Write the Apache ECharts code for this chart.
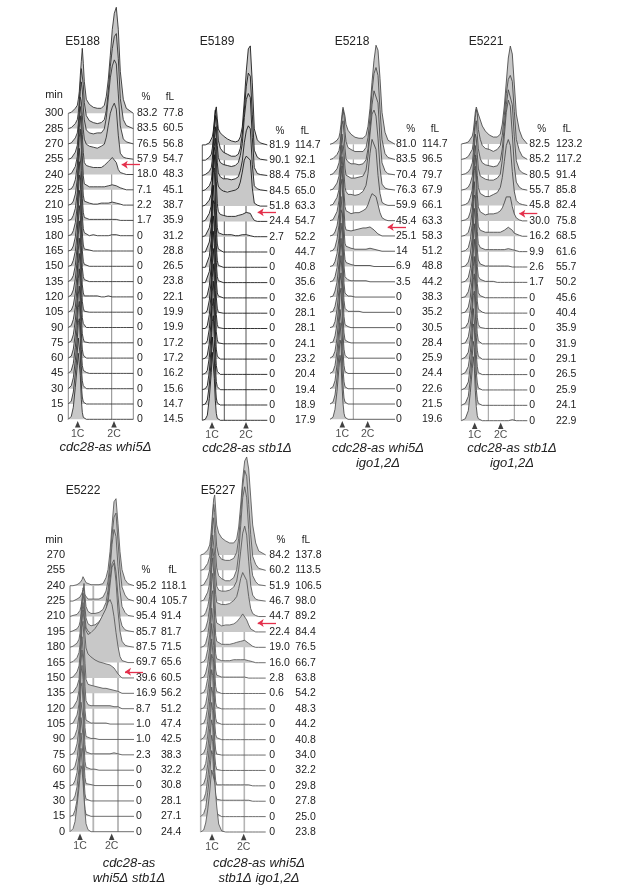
<!DOCTYPE html>
<html><head><meta charset="utf-8">
<script src="https://cdn.jsdelivr.net/npm/echarts@6/dist/echarts.min.js"></script>
<style>html,body{margin:0;padding:0;background:#fff}#c{width:617px;height:896px}</style>
</head><body><div id="c"></div>
<script>
// ---- shared DNA-content channels
const channels_a = [0,3,5,7,9,10,11,12,13,14,15,16,18,21,25,29,33,36,38,40,42,44,46,48,50,52,55,58,65];
const channels_b = [0,4,7,9,11,12,13,14,15,16,17,19,21,24,28,32,36,39,41,43,45,47,49,51,53,55,58,61,66];
const channels_c = [0,3,5,7,9,10,11,12,13,14,15,16,18,21,25,29,33,36,38,40,42,44,46,48,50,52,55,58,64];

// ---- E5188
const E5188_min = ['300','285','270','255','240','225','210','195','180','165','150','135','120','105','90','75','60','45','30','15','0'];
const E5188_pct = ['83.2','83.5','76.5','57.9','18.0','7.1','2.2','1.7','0','0','0','0','0','0','0','0','0','0','0','0','0'];
const E5188_fl = ['77.8','60.5','56.8','54.7','48.3','45.1','38.7','35.9','31.2','28.8','26.5','23.8','22.1','19.9','19.9','17.2','17.2','16.2','15.6','14.7','14.5'];
const E5188_hist = [
[0,1,3,5,8,14,22,38,52,65,50,32,14,9,6,5,5,8,17,34,58,84,100,106,84,42,14,5,0],
[0,1,2,5,9,16,28,44,60,62,44,26,13,8,6,5,6,9,18,38,62,80,92,95,70,30,9,3,0],
[0,1,3,6,11,20,34,52,62,54,36,24,14,11,10,11,11,15,26,46,66,78,84,80,50,18,5,2,0],
[0,1,3,7,14,26,44,62,58,44,30,20,15,13,12,11,13,15,22,34,46,52,56,50,24,6,2,1,0],
[0,1,3,8,18,32,54,68,60,40,22,12,9,8,7,7,7,9,11,13,15,17,18,12,5,2,1,0,0],
[0,1,4,10,24,42,62,74,60,34,14,6,4,3,3,3,3,3,3,4,4,5,4,4,3,2,1,0,0],
[0,1,4,11,26,46,68,76,56,28,10,4,2,2,1,1,2,2,2,2,3,3,2,2,1,1,0,0,0],
[0,1,5,12,28,50,72,74,50,22,8,3,1,1,1,1,1,1,1,1,1,1,1,1],
[0,1,5,13,30,54,74,72,46,20,7,3,1,0,1,0,0,0,0,0,1,1,0,1],
[0,1,5,14,32,56,76,70,42,18,6,2,1,1],
[0,1,6,15,34,58,76,68,40,16,5,2,1],
[0,2,6,16,36,60,76,66,36,14,5,2,1],
[0,2,7,18,38,62,76,62,34,12,4,1,1,1,1,1,0,0,1,1],
[0,2,7,19,40,62,74,60,32,11,4,1,1],
[0,2,8,20,42,64,74,58,30,10,4,2],
[0,2,8,22,44,64,74,56,28,9,4,1],
[0,2,9,24,46,64,72,54,26,9,3,1],
[0,3,10,26,48,66,72,52,24,8,3,1,1],
[0,3,11,28,50,66,70,50,22,8,3,1],
[0,3,12,30,52,66,68,48,20,7,2,1],
[0,3,12,32,54,66,66,44,20,7,2,1]
];

// ---- E5189
const E5189_pct = ['81.9','90.1','88.4','84.5','51.8','24.4','2.7','0','0','0','0','0','0','0','0','0','0','0','0'];
const E5189_fl = ['114.7','92.1','75.8','65.0','63.3','54.7','52.2','44.7','40.8','35.6','32.6','28.1','28.1','24.1','23.2','20.4','19.4','18.9','17.9'];
const E5189_hist = [
[0,0,1,2,4,8,14,24,34,38,26,16,12,9,6,4,3,4,8,18,44,74,96,99,62,16,5,2,0],
[0,0,1,3,6,12,22,36,50,52,36,20,12,8,6,4,4,6,12,26,50,74,87,84,46,10,3,1,0],
[0,1,2,4,8,16,30,46,60,50,30,18,13,11,10,9,10,13,20,32,58,76,82,78,38,8,2,1,0],
[0,1,2,5,10,20,36,52,64,52,28,18,14,12,12,11,12,14,20,30,48,60,65,62,26,5,2,1,0],
[0,1,3,6,12,24,42,60,68,48,26,20,17,15,14,15,16,18,24,34,46,50,52,46,18,3,1,0,0],
[0,1,3,8,16,32,54,74,70,40,18,10,7,6,5,5,5,6,6,7,8,9,9,8,4,1,0,0,0],
[0,1,3,9,20,40,66,82,64,28,9,4,2,2,2,2,1,1,2,2,2,2,1,1,1,0],
[0,0,2,10,26,52,80,84,56,24,8,3,1],
[0,0,2,11,28,56,82,80,52,22,7,2,1],
[0,0,2,11,30,58,82,78,48,20,6,2],
[0,0,3,12,32,60,82,74,44,18,5,2,1],
[0,0,3,13,34,62,82,70,42,16,5,1],
[0,0,3,14,36,64,80,66,38,14,4,1],
[0,0,3,15,38,66,80,62,34,12,4,1],
[0,1,4,16,40,68,78,58,30,10,3,1],
[0,1,4,17,42,68,76,54,28,9,3,1],
[0,1,4,18,44,68,74,50,26,8,3,1],
[0,1,5,20,46,68,70,46,22,7,2],
[0,1,5,22,48,68,66,42,20,7,2]
];

// ---- E5218
const E5218_pct = ['81.0','83.5','70.4','76.3','59.9','45.4','25.1','14','6.9','3.5','0','0','0','0','0','0','0','0','0'];
const E5218_fl = ['114.7','96.5','79.7','67.9','66.1','63.3','58.3','51.2','48.8','44.2','38.3','35.2','30.5','28.4','25.9','24.4','22.6','21.5','19.6'];
const E5218_hist = [
[0,1,2,4,7,12,20,30,37,39,28,20,14,10,7,6,6,9,18,36,62,84,99,94,66,32,12,4,0],
[0,1,2,5,9,15,26,40,50,44,28,18,12,10,8,8,8,12,22,42,68,86,92,84,50,20,6,2,0],
[0,1,3,6,12,20,34,50,54,42,26,16,13,11,11,10,11,15,26,46,70,84,85,72,36,12,4,1,0],
[0,1,3,7,14,24,40,56,54,38,22,15,13,12,12,13,14,20,34,56,76,80,74,52,22,6,2,1,0],
[0,1,3,8,16,28,46,60,50,32,18,14,11,11,10,11,14,20,32,52,66,68,56,30,12,3,1,0,0],
[0,1,3,9,20,34,52,64,50,28,14,10,8,7,8,8,10,12,16,22,27,28,24,16,8,3,1,0,0],
[0,1,4,10,22,40,58,70,50,26,10,6,5,5,6,7,8,8,10,9,7,6,4,2,1,0],
[0,1,4,12,26,46,66,72,48,22,8,5,4,3,2,2,2,2,2,3,2,2,1,1,1],
[0,1,5,13,28,50,70,70,44,18,7,4,3,2,1,1,1,1,1,1,1],
[0,1,5,14,30,54,72,68,40,16,5,3,2,1,1,1,1,1],
[0,1,6,15,34,56,74,64,36,14,4,2,1,1],
[0,1,6,16,36,58,74,60,32,12,4,2,1,1,1,1],
[0,1,6,18,38,60,72,56,30,11,3,2,1],
[0,1,7,19,40,62,70,52,26,10,3,1,1],
[0,2,7,20,44,64,70,48,24,9,3,1],
[0,2,8,22,46,64,66,44,22,8,2,1],
[0,2,8,24,48,66,64,40,20,7,2,1],
[0,2,9,26,50,64,60,36,18,6,2,1],
[0,2,10,28,52,64,56,34,16,6,2,1]
];

// ---- E5221
const E5221_pct = ['82.5','85.2','80.5','55.7','45.8','30.0','16.2','9.9','2.6','1.7','0','0','0','0','0','0','0','0','0'];
const E5221_fl = ['123.2','117.2','91.4','85.8','82.4','75.8','68.5','61.6','55.7','50.2','45.6','40.4','35.9','31.9','29.1','26.5','25.9','24.1','22.9'];
const E5221_hist = [
[0,1,2,4,8,13,22,32,37,38,30,24,18,13,9,7,7,10,20,38,62,86,98,90,60,30,14,6,0],
[0,1,3,5,10,17,28,42,50,46,30,20,14,11,10,8,10,14,24,44,66,80,84,78,48,20,9,3,0],
[0,1,3,6,12,22,36,50,54,40,26,16,12,10,9,8,9,14,26,48,70,85,84,70,38,14,5,2,0],
[0,1,3,7,14,26,42,56,52,36,22,14,12,11,10,10,12,16,30,54,78,90,84,56,24,8,3,1,0],
[0,1,3,8,16,30,48,60,48,30,18,12,10,9,9,11,13,18,28,44,60,66,60,34,14,5,2,1,0],
[0,1,3,9,20,36,54,66,50,26,14,9,7,6,7,7,8,10,13,18,24,25,24,14,7,3,1,0,0],
[0,1,4,11,26,46,66,70,48,24,10,6,5,4,4,4,4,4,5,6,8,9,8,6,3,2,1,0,0],
[0,1,4,12,28,50,70,70,44,20,8,4,3,2,2,2,2,2,2,2,3,3,2,2,1,1],
[0,1,5,13,30,54,72,68,40,18,7,3,2,1,1,1,1,1,1,1,1,1,1],
[0,1,5,14,32,56,74,64,38,16,6,3,1,1,1,1],
[0,1,6,15,34,58,74,60,34,14,5,2,1],
[0,1,6,16,36,60,74,58,32,12,4,2,1],
[0,1,6,18,38,62,72,54,28,11,4,1,1],
[0,1,7,19,40,64,70,50,24,10,3,1],
[0,2,7,20,44,64,68,46,22,9,3,1],
[0,2,8,22,46,66,66,42,20,8,2,1],
[0,2,8,24,48,66,62,38,18,7,2,1],
[0,2,9,26,50,64,58,32,16,6,2,1],
[0,2,10,28,52,64,54,30,14,5,2,1,0,0,0,0,0,0,0,0,0,0,1,1,1,0]
];

// ---- E5222
const E5222_min = ['270','255','240','225','210','195','180','165','150','135','120','105','90','75','60','45','30','15','0'];
const E5222_pct = ['','','95.2','90.4','95.4','85.7','87.5','69.7','39.6','16.9','8.7','1.0','1.0','2.3','0','0','0','0','0'];
const E5222_fl = ['','','118.1','105.7','91.4','81.7','71.5','65.6','60.5','56.2','51.2','47.4','42.5','38.3','32.2','30.8','28.1','27.1','24.4'];
const E5222_hist = [
[0,0,1,1,2,3,4,6,9,11,7,3,2,1,1,1,2,8,16,34,60,84,87,62,34,16,6,2,0],
[0,0,1,2,3,4,5,8,11,10,6,4,2,2,2,2,4,10,20,38,66,84,88,60,32,14,6,2,0],
[0,1,1,2,4,6,10,16,24,33,20,10,5,3,3,4,7,14,26,46,72,87,80,50,26,10,4,1,0],
[0,1,2,3,6,10,18,30,44,40,24,14,8,6,7,10,16,22,34,52,68,72,60,36,14,6,2,1,0],
[0,1,2,4,8,14,26,42,54,46,30,20,16,14,15,18,22,30,44,62,80,84,66,36,16,6,2,1,0],
[0,1,2,5,10,18,34,50,60,50,38,32,28,30,34,40,48,54,60,63,58,46,30,16,6,2,1,0,0],
[0,1,3,6,12,22,38,56,68,58,42,30,24,21,18,16,15,14,14,13,11,10,7,4,2,0,0,0,0],
[0,1,3,7,14,28,48,66,72,54,30,14,9,8,7,6,5,5,4,4,3,3,2,2,1,0,0,0,0],
[0,1,3,8,18,34,56,72,70,46,22,8,4,3,3,3,3,3,3,3,2,2,2,2,1,0],
[0,1,3,9,20,40,62,74,64,38,14,4,2,1,1,1,1,1],
[0,1,4,10,24,44,66,74,60,32,12,3,2,1,1],
[0,1,4,11,26,46,68,72,54,28,10,3,1,1,1,1,1,1,1,1,1,2,2,1,1],
[0,1,4,12,28,48,68,70,52,26,9,3,1,1,1],
[0,1,5,13,30,50,68,68,50,24,8,2,1,1],
[0,1,5,14,32,52,68,68,46,22,7,2,1],
[0,1,6,16,36,54,68,66,42,20,7,2,1],
[0,3,10,26,44,56,66,62,50,34,20,8,2]
];

// ---- E5227
const E5227_pct = ['84.2','60.2','51.9','46.7','44.7','22.4','19.0','16.0','2.8','0.6','0','0','0','0','0','0','0','0','0'];
const E5227_fl = ['137.8','113.5','106.5','98.0','89.2','84.4','76.5','66.7','63.8','54.2','48.3','44.2','40.8','34.0','32.2','29.8','27.8','25.0','23.8'];
const E5227_hist = [
[0,1,2,5,10,18,30,44,56,60,46,30,22,17,14,12,12,16,28,50,76,94,98,86,58,30,12,4,0],
[0,1,3,7,14,24,38,54,66,58,40,24,15,11,10,10,12,18,32,56,84,100,94,66,36,14,6,2,0],
[0,1,3,8,16,28,44,60,68,52,32,18,10,7,5,5,8,16,32,60,88,99,88,56,24,10,4,1,0],
[0,1,3,9,18,32,50,66,64,46,26,15,11,10,10,11,14,20,32,50,68,75,66,40,16,6,2,1,0],
[0,1,4,10,20,36,54,68,60,40,22,14,12,12,12,13,16,20,28,38,44,45,36,20,8,3,1,0,0],
[0,1,4,11,24,44,64,74,60,36,16,9,7,6,7,7,8,10,12,15,18,17,12,7,3,1,0,0,0],
[0,1,4,12,26,46,66,74,58,30,12,6,4,3,3,3,4,5,5,6,7,7,6,4,2,1,0],
[0,1,4,13,28,48,68,72,54,26,9,4,2,2,2,2,3,3,3,3,3,3,2,2,1,1],
[0,1,5,14,30,50,70,72,50,24,8,3,1,1,1,1,1,1,1,1,1,1,1],
[0,1,5,15,32,52,70,70,48,22,7,2,1],
[0,1,5,16,34,54,70,68,46,20,6,2,1],
[0,1,6,17,36,56,70,66,44,18,6,2,1],
[0,2,6,18,38,58,70,64,42,17,5,2],
[0,2,7,19,40,58,68,62,40,16,5,1],
[0,2,7,20,42,58,68,60,38,16,5,1,1],
[0,2,8,21,42,58,66,60,38,16,5,1,1,1,1,1,1,1,1,1,1,1,1,1],
[0,2,8,22,42,56,66,60,40,18,6,2,1,1,1,1,1,1,1,1,1,1,1,1],
[0,3,9,24,42,56,66,62,44,24,10,3,1],
[0,2,9,22,40,52,62,64,60,50,38,26,8,1]
];

// ---- reference marks: 1C/2C channel, red arrow [tail channel, tip channel, row height]
const E5188_ploidy = [9.4,45.7], E5188_arrow = [71.7,53.4,16.64], E5188_gates = [0,43.4,65];
const E5189_ploidy = [9.7,43.7], E5189_arrow = [73.7,55.4,13.6],  E5189_gates = [0,22,43.7];
const E5218_ploidy = [12.3,37.7],E5218_arrow = [76,57.7,12.58],   E5218_gates = [23.3];
const E5221_ploidy = [13.4,39.4],E5221_arrow = [76,58,13.47],     E5221_gates = [0,27,53];
const E5222_ploidy = [10,41.7],  E5222_arrow = [73,55,10.4],      E5222_gates = [0,23.3,48];
const E5227_ploidy = [11.3,43],  E5227_arrow = [75.3,57,13.58],   E5227_gates = [0,22,43.6];

const FONT = '"Liberation Sans", Arial, sans-serif';
const TEXT = '#222';

const panels = [
 {name:'E5188',ch:channels_a,hist:E5188_hist,min:E5188_min,pct:E5188_pct,fl:E5188_fl,pl:E5188_ploidy,arrow:E5188_arrow,gates:E5188_gates,
  left:68.3,width:65,y0:419.3,step:15.3,rows:27,mP:3.7,oF:26,line:'#2a2a2a',gate:'#888',gw:1,
  nameX:82.5,nameY:41.5,pctX:146,flX:170,headY:97,minY:95,gene:['cdc28-as whi5'],geneX:105.5,geneY:447.7},
 {name:'E5189',ch:channels_a,hist:E5189_hist,pct:E5189_pct,fl:E5189_fl,pl:E5189_ploidy,arrow:E5189_arrow,gates:E5189_gates,
  left:202.3,width:65,y0:420.3,step:15.3,rows:25,mP:2,oF:25.7,line:'#111',gate:'#555',gw:1,
  nameX:217,nameY:41.5,pctX:280,flX:305,headY:131,gene:['cdc28-as stb1'],geneX:247,geneY:448},
 {name:'E5218',ch:channels_a,hist:E5218_hist,pct:E5218_pct,fl:E5218_fl,pl:E5218_ploidy,arrow:E5218_arrow,gates:E5218_gates,
  left:330,width:65,y0:419.3,step:15.28,rows:25,mP:1,oF:26,line:'#444',gate:'#999',gw:1,
  nameX:352,nameY:41.5,pctX:410.7,flX:435,headY:129,gene:['cdc28-as whi5','igo1,2'],geneX:378,geneY:448},
 {name:'E5221',ch:channels_b,hist:E5221_hist,pct:E5221_pct,fl:E5221_fl,pl:E5221_ploidy,arrow:E5221_arrow,gates:E5221_gates,
  left:461.3,width:66,y0:420.7,step:15.37,rows:25,mP:2,oF:26.7,line:'#444',gate:'#999',gw:1,
  nameX:486,nameY:41.5,pctX:541.7,flX:567,headY:129,gene:['cdc28-as stb1','igo1,2'],geneX:512,geneY:448},
 {name:'E5222',ch:channels_c,hist:E5222_hist,min:E5222_min,pct:E5222_pct,fl:E5222_fl,pl:E5222_ploidy,arrow:E5222_arrow,gates:E5222_gates,
  left:70,width:64,y0:831.7,step:15.375,rows:22,mP:2,oF:25,line:'#555',gate:'#b5b5b5',gw:1.8,
  nameX:83,nameY:490.7,pctX:146,flX:172.7,headY:570.7,minY:540.3,gene:['cdc28-as','whi5 stb1'],geneX:129,geneY:863},
 {name:'E5227',ch:channels_a,hist:E5227_hist,pct:E5227_pct,fl:E5227_fl,pl:E5227_ploidy,arrow:E5227_arrow,gates:E5227_gates,
  left:200.7,width:65,y0:832,step:15.39,rows:25,mP:3.6,oF:26,line:'#555',gate:'#b5b5b5',gw:1.6,
  nameX:218,nameY:490.7,pctX:281,flX:306,headY:540,gene:['cdc28-as whi5','stb1 igo1,2'],geneX:259,geneY:863}
];

const grid=[],xAxis=[],yAxis=[],series=[],title=[];
const txt=(text,x,y,size,extra)=>title.push(Object.assign({text,left:x,top:y,padding:0,textAlign:'center',textVerticalAlign:'middle',
  textStyle:{fontFamily:FONT,fontSize:size,fontWeight:'normal',color:TEXT}},extra||{}));

panels.forEach((p,gi)=>{
  const n=p.fl.length, top=n-1;
  grid.push({left:p.left,width:p.width,top:p.y0-p.rows*p.step,height:p.rows*p.step});
  xAxis.push({gridIndex:gi,type:'value',min:0,max:p.width,show:false});
  const yBase={gridIndex:gi,type:'value',min:0,max:p.rows*p.step,interval:p.step,splitLine:{show:false},axisLine:{show:false},axisTick:{show:false}};
  const rowLabel=arr=>v=>{const i=Math.round(v/p.step);return i<=top?(arr[top-i]||''):'';};
  const ls={fontFamily:FONT,fontSize:10.5,color:TEXT,showMinLabel:true,showMaxLabel:true};
  const yi=yAxis.length;
  yAxis.push(Object.assign({},yBase,{position:'left',axisLabel:Object.assign({},ls,{show:!!p.min,fontSize:11,margin:5,formatter:p.min?rowLabel(p.min):''})}));
  yAxis.push(Object.assign({},yBase,{position:'right',axisLabel:Object.assign({},ls,{margin:p.mP,align:'left',formatter:rowLabel(p.pct)})}));
  yAxis.push(Object.assign({},yBase,{position:'right',offset:p.oF,axisLabel:Object.assign({},ls,{margin:p.mP,align:'left',formatter:rowLabel(p.fl)})}));

  // gates under the traces
  const hn=p.hist.length-1;
  p.gates.forEach(x=>series.push({type:'line',xAxisIndex:gi,yAxisIndex:yi,silent:true,symbol:'none',clip:false,
    data:[[x,0],[x,hn*p.step]],lineStyle:{color:p.gate,width:p.gw},z:1}));

  // one filled trace per time point, latest at the back
  p.hist.forEach((h,ri)=>{
    const base=(hn-ri)*p.step;
    series.push({type:'line',xAxisIndex:gi,yAxisIndex:yi,silent:true,symbol:'none',clip:false,smooth:false,
      data:p.ch.map((c,i)=>[c,base+(h[i]||0)]),
      lineStyle:{color:p.line,width:0.85},
      areaStyle:{color:'#c8c8c8',opacity:1,origin:base},z:2+ri*0.01});
  });

  // 1C / 2C markers
  series.push({type:'scatter',xAxisIndex:gi,yAxisIndex:yi,silent:true,clip:false,symbol:'triangle',symbolSize:[5.5,6.5],symbolOffset:[0,5],
    itemStyle:{color:'#111'},z:5,
    data:[{value:[p.pl[0],0],name:'1C'},{value:[p.pl[1],0],name:'2C'}],
    label:{show:true,position:'bottom',distance:1,formatter:'{b}',fontFamily:FONT,fontSize:10.5,color:TEXT}});

  // red arrow
  series.push({type:'lines',coordinateSystem:'cartesian2d',xAxisIndex:gi,yAxisIndex:yi,silent:true,clip:false,polyline:false,
    symbol:['none','arrow'],symbolSize:6,z:6,
    lineStyle:{color:'#e4304c',width:1.3,opacity:1,curveness:0},
    data:[{coords:[[p.arrow[0],p.arrow[2]*p.step],[p.arrow[1],p.arrow[2]*p.step]]}]});

  // texts
  txt(p.name,p.nameX,p.nameY,12);
  txt('%',p.pctX,p.headY,10);
  txt('fL',p.flX,p.headY,10);
  if(p.min) txt('min',54,p.minY,11);
  p.gene.forEach((g,i)=>{
    title.push({text:geneRich(g),left:p.geneX,top:p.geneY+i*15.8,padding:0,textAlign:'center',textVerticalAlign:'middle',
      textStyle:{fontFamily:FONT,fontSize:13,fontStyle:'italic',fontWeight:'normal',color:TEXT,
        rich:{i:{fontFamily:FONT,fontSize:13,fontStyle:'italic',color:TEXT},d:{fontFamily:FONT,fontSize:13,color:TEXT}}}});
  });
});
function geneRich(g){
  // every deleted gene carries an upright delta
  const d=g.replace(/(whi5|stb1|igo1,2)/g,'$1\u0000');
  return d.split('\u0000').map((s,i,a)=> s===''?'': '{i|'+s+'}'+(i<a.length-1?'{d|\u0394}':'')).join('');
}
const chart=echarts.init(document.getElementById('c'),null,{renderer:'canvas'});
chart.setOption({animation:false,backgroundColor:'#fff',title,grid,xAxis,yAxis,series});
</script></body></html>
